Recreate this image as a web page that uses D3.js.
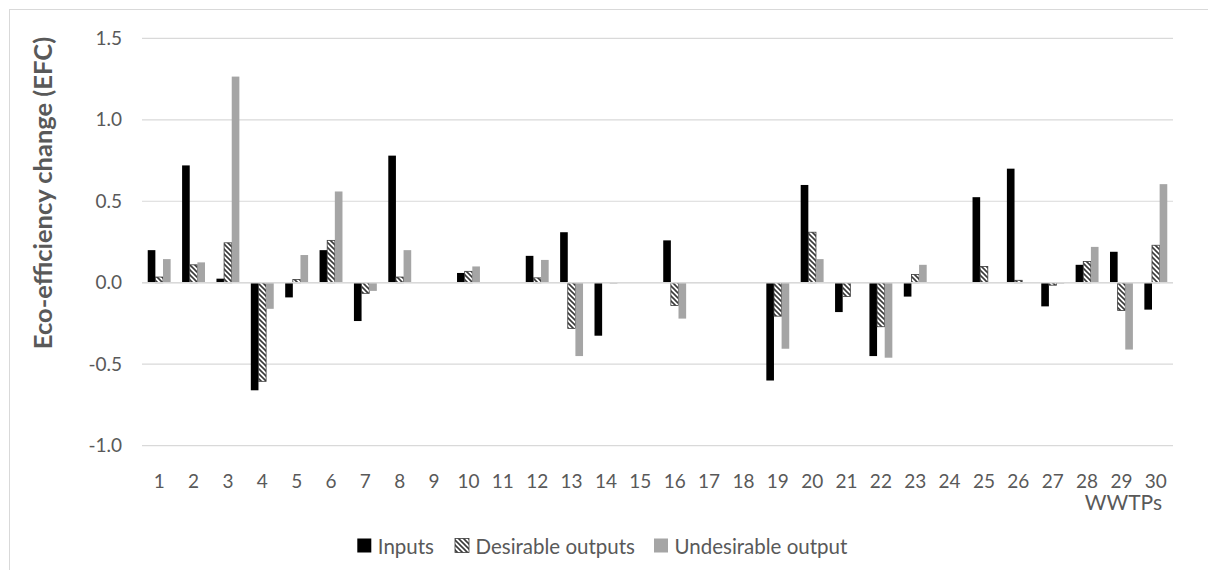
<!DOCTYPE html>
<html>
<head>
<meta charset="utf-8">
<script src="https://cdn.jsdelivr.net/npm/d3@7"></script>
<style>
  html, body { margin: 0; padding: 0; background: #fff; }
  svg { display: block; }
  text { font-family: Lato, "Open Sans", sans-serif; fill: #595959; }
</style>
</head>
<body>
<svg id="chart" width="1208" height="570"></svg>
<script>
const categories = ["1","2","3","4","5","6","7","8","9","10","11","12","13","14","15","16","17","18","19","20","21","22","23","24","25","26","27","28","29","30"];
const seriesNames = ["Inputs", "Desirable outputs", "Undesirable output"];
const inputs = [0.20, 0.72, 0.025, -0.66, -0.09, 0.20, -0.235, 0.78, 0, 0.06, 0, 0.165, 0.31, -0.325, 0, 0.26, 0, 0, -0.60, 0.60, -0.18, -0.45, -0.085, 0, 0.525, 0.70, -0.145, 0.11, 0.19, -0.165];
const desirable = [0.035, 0.11, 0.245, -0.605, 0.02, 0.26, -0.065, 0.035, 0, 0.07, 0, 0.03, -0.28, 0, 0, -0.14, 0, 0, -0.205, 0.31, -0.085, -0.27, 0.05, 0, 0.10, 0.015, -0.015, 0.13, -0.17, 0.23];
const undesirable = [0.145, 0.125, 1.265, -0.16, 0.17, 0.56, -0.05, 0.20, 0, 0.10, 0, 0.14, -0.45, -0.005, 0, -0.22, 0, 0, -0.405, 0.145, 0, -0.46, 0.11, 0, 0, 0, -0.005, 0.22, -0.41, 0.605];
const yTicks = [-1.0, -0.5, 0.0, 0.5, 1.0, 1.5];
const yTickLabels = ["-1.0", "-0.5", "0.0", "0.5", "1.0", "1.5"];

(function () {
const svg = d3.select("#chart");
const mLeft = 142, mRight = 1173, mTop = 38.3, mBottom = 445.7;

// outer chart border
svg.append("rect").attr("x", 9.5).attr("y", 9.5).attr("width", 1250).attr("height", 620)
  .attr("fill", "#fff").attr("stroke", "#d9d9d9").attr("stroke-width", 1);

const defs = svg.append("defs");
const pat = defs.append("pattern").attr("id", "hatch").attr("patternUnits", "userSpaceOnUse")
  .attr("width", 5).attr("height", 5);
pat.append("rect").attr("width", 5).attr("height", 5).attr("fill", "#fff");
pat.append("path").attr("d", "M-1,-1 L6,6 M-1,4 L1,6 M4,-1 L6,1")
  .attr("stroke", "#3a3a3a").attr("stroke-width", 1.6);

const x0 = d3.scaleBand().domain(categories).range([mLeft, mRight]).padding(0);
const barW = x0.bandwidth() / 4.5;
const groupOff = (x0.bandwidth() - 3 * barW) / 2;
const x1 = d3.scaleBand().domain(seriesNames).range([groupOff, groupOff + 3 * barW]).padding(0);
const y = d3.scaleLinear().domain([-1.0, 1.5]).range([mBottom, mTop]);

// gridlines
svg.append("g").selectAll("line").data(yTicks).join("line")
  .attr("x1", mLeft).attr("x2", mRight)
  .attr("y1", d => y(d)).attr("y2", d => y(d))
  .attr("stroke", "#d9d9d9").attr("stroke-width", 1.2);

// y tick labels
svg.append("g").selectAll("text").data(yTicks).join("text")
  .attr("x", 122).attr("y", d => y(d)).attr("dy", "0.35em")
  .attr("text-anchor", "end").attr("font-size", 19)
  .text((d, i) => yTickLabels[i]);

// bars
const series = [
  { name: seriesNames[0], values: inputs, fill: "#000000", stroke: "none" },
  { name: seriesNames[1], values: desirable, fill: "url(#hatch)", stroke: "#3a3a3a" },
  { name: seriesNames[2], values: undesirable, fill: "#a5a5a5", stroke: "none" }
];
series.forEach(s => {
  svg.append("g").selectAll("rect").data(s.values.map((v, i) => ({ v, c: categories[i] })))
    .join("rect")
    .filter(d => d.v !== 0)
    .attr("x", d => x0(d.c) + x1(s.name))
    .attr("width", x1.bandwidth())
    .attr("y", d => y(Math.max(0, d.v)))
    .attr("height", d => Math.abs(y(d.v) - y(0)))
    .attr("fill", s.fill)
    .attr("stroke", s.stroke)
    .attr("stroke-width", s.stroke === "none" ? 0 : 0.8);
});

// zero axis line
svg.append("line").attr("x1", mLeft).attr("x2", mRight).attr("y1", y(0)).attr("y2", y(0))
  .attr("stroke", "#d9d9d9").attr("stroke-width", 1.5);

// x tick labels
svg.append("g").selectAll("text").data(categories).join("text")
  .attr("x", d => x0(d) + x0.bandwidth() / 2).attr("y", 481).attr("dy", "0.35em")
  .attr("text-anchor", "middle").attr("font-size", 19)
  .text(d => d);

// x axis title
svg.append("text").attr("x", 1162).attr("y", 503).attr("dy", "0.35em")
  .attr("text-anchor", "end").attr("font-size", 21).text("WWTPs");

// y axis title
svg.append("text").attr("transform", "translate(51.5,193) rotate(-90)")
  .attr("text-anchor", "middle")
  .attr("font-size", 25.5).attr("font-weight", "bold")
  .text("Eco-efficiency change (EFC)");

// legend
const legendItems = [
  { name: seriesNames[0], fill: "#000000", stroke: "none", x: 357.3 },
  { name: seriesNames[1], fill: "url(#hatch)", stroke: "#3a3a3a", x: 455 },
  { name: seriesNames[2], fill: "#a5a5a5", stroke: "none", x: 654 }
];
const lg = svg.append("g").selectAll("g").data(legendItems).join("g");
lg.append("rect").attr("x", d => d.x).attr("y", 538.5).attr("width", 14).attr("height", 14)
  .attr("fill", d => d.fill).attr("stroke", d => d.stroke).attr("stroke-width", 0.8);
lg.append("text").attr("x", d => d.x + 20.5).attr("y", 546.5).attr("dy", "0.35em")
  .attr("font-size", 20.5).text(d => d.name);
})();
</script>
</body>
</html>
